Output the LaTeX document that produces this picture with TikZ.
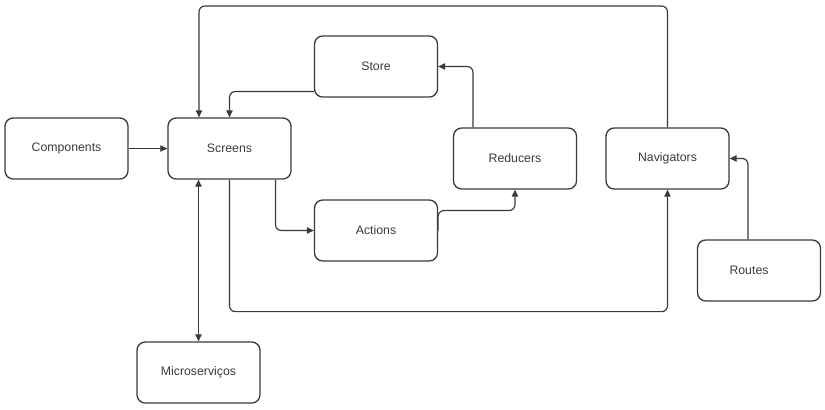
\documentclass[tikz,border=0pt]{standalone}
\usepackage{fontspec}
\setmainfont{Liberation Sans}
\usepackage{tikz}
\usetikzlibrary{arrows.meta}
\usetikzlibrary{calc}
\definecolor{linegray}{HTML}{3A3A3A}

\begin{document}
\begin{tikzpicture}[x=0.03cm,y=-0.03cm]
\tikzstyle{every node}=[font=\fontsize{10.5}{12}\selectfont, text=linegray]
\tikzstyle{box}=[draw=linegray, line width=1.1pt, rounded corners=7pt, minimum width=3.69cm, minimum height=1.83cm, inner sep=0pt]
\tikzstyle{arr}=[draw=linegray, line width=1pt, rounded corners=5pt, -{Triangle[length=6pt,width=5.5pt]}]
\useasboundingbox (0,0) rectangle (825,409);
\node [box] (comp) at (66.5,148.5) {Components};
\node [box] (scr) at (229.5,148.5) {Screens};
\node [box] (store) at (376,66.5) {Store};
\node [box] (red) at (515,158.5) {Reducers};
\node [box] (nav) at (667.5,158.5) {Navigators};
\node [box] (act) at (376,230.5) {Actions};
\node [box, label={[xshift=-0.3cm]center:Routes}] (rt) at (759,270.5) {};
\node [box] (ms) at (198.5,372.5) {Microserviços};
\coordinate (top) at (199,6);
% connectors
\draw [arr] (comp) -- (scr);
\draw [arr] (nav.north) |- (top) -- (top |- scr.north);
\draw [arr] ($(store.west)+(0,25)$) -| (scr.north);
\draw [arr] ($(red.north)+(-42,0)$) |- (store.east);
\draw [arr] (scr.south) -- ++(0,132) -| (nav.south);
\draw [arr] ($(scr.south)+(46,0)$) |- (act.west);
\draw [arr] (act.east) -- ++(0,-20) -| (red.south);
\draw [arr] ($(rt.north)+(-11,0)$) |- (nav.east);
\draw [arr, {Triangle[length=6pt,width=5.5pt]}-{Triangle[length=6pt,width=5.5pt]}] (ms.north) -- (ms.north |- scr.south);
\end{tikzpicture}
\end{document}
